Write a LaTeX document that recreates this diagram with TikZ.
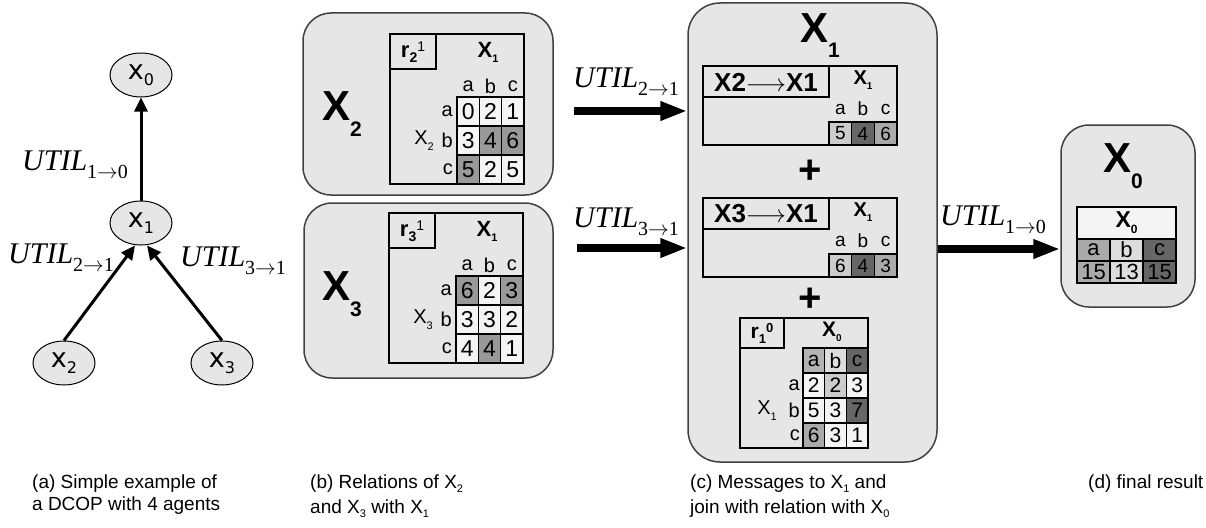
\documentclass[tikz,border=0pt]{standalone}
\usepackage{fontspec}
\setmainfont{Liberation Sans}
\newfontfamily\utilfont{Liberation Serif}
\newfontfamily\dvfont{DejaVu Sans}
\usetikzlibrary{arrows.meta,shapes.geometric}
\definecolor{boxgray}{HTML}{E6E6E6}
\definecolor{boxline}{HTML}{404040}
\definecolor{cellw}{HTML}{F4F4F4}
\definecolor{g99}{HTML}{999999}
\definecolor{g66}{HTML}{666666}
\definecolor{gaa}{HTML}{AAAAAA}
\definecolor{gcc}{HTML}{CCCCCC}
\definecolor{gdd}{HTML}{DDDDDD}
\definecolor{gbb}{HTML}{B3B3B3}
\newcommand{\fsz}[1]{\fontsize{#1}{#1}\selectfont}
\newcommand{\dn}[3]{\raisebox{-#1pt}{\fsz{#2}#3}}
\newcommand{\up}[3]{\raisebox{#1pt}{\fsz{#2}#3}}
\newcommand{\util}[2]{{\fsz{30}\utilfont\itshape UTIL}\dn{8}{20}{\utilfont #1\(\rightarrow\)#2}}
\begin{document}
\begin{tikzpicture}[x=1pt,y=-1pt,
  agent/.style={ellipse, draw=black, line width=1pt, fill=boxgray, minimum width=62pt, minimum height=44pt, inner sep=0pt, font=\dvfont\fsz{27}},
  thinarr/.style={line width=3pt, -{Triangle[length=14pt,width=13pt]}},
  bigarr/.style={line width=8pt, -{Triangle[length=27pt,width=18pt]}},
  utl/.style={inner sep=0pt},
  vbox/.style={draw=boxline, line width=1.5pt, fill=boxgray, rounded corners=28pt, inner sep=0pt},
  tframe/.style={draw=black, line width=2pt},
  bigx/.style={inner sep=0pt, font=\fsz{42}\bfseries},
  lbl/.style={inner sep=0pt},
  cellb/.style={draw=black, line width=1.6pt, minimum width=22.33pt, minimum height=29pt, inner sep=0pt, font=\fsz{23}},
  cellm/.style={draw=black, line width=1.6pt, minimum width=22.67pt, minimum height=23pt, inner sep=0pt, font=\fsz{19}},
  cellr/.style={draw=black, line width=1.6pt, minimum width=21.67pt, minimum height=25pt, inner sep=0pt, font=\fsz{21}},
  cellx/.style={draw=black, line width=1.6pt, minimum width=33pt, minimum height=22pt, inner sep=0pt, font=\fsz{22}},
  plussign/.style={inner sep=0pt, font=\fsz{40}\bfseries},
  captxt/.style={inner sep=0pt, align=left, anchor=north west}
]
\useasboundingbox (0,0) rectangle (1206,527);

% ---------- (a) ----------
\node[agent] (x0) at (141,75) {x\dn{6}{16}{0}};
\node[agent] (x1) at (141,223) {x\dn{6}{16}{1}};
\node[agent] (x2) at (64,363) {x\dn{6}{16}{2}};
\node[agent] (x3) at (222,363) {x\dn{6}{16}{3}};
\draw[thinarr] (x1) -- (x0);
\draw[thinarr] (x2.north) -- ([xshift=-6pt]x1.south);
\draw[thinarr] (x3.north) -- ([xshift=6pt]x1.south);
\node[utl, anchor=base west] (l10a) at (22,170) {\util{1}{0}};
\node[utl, anchor=base west] (l21a) at (8,263) {\util{2}{1}};
\node[utl, anchor=base west] (l31a) at (180,266) {\util{3}{1}};

% ---------- boxes ----------
\node[vbox, minimum width=250pt, minimum height=182pt] (boxX2) at (428,104) {};
\node[vbox, minimum width=249pt, minimum height=175pt] (boxX3) at (428.5,290.5) {};
\node[vbox, minimum width=249pt, minimum height=459pt, rounded corners=32pt] (mid) at (812.5,232.5) {};
\node[vbox, minimum width=134pt, minimum height=182pt] (boxX0) at (1128,216) {};

\node[bigx, anchor=base west] (bx2) at (322,120) {X\dn{16}{21}{2}};
\node[bigx, anchor=base west] (bx3) at (322,300) {X\dn{16}{21}{3}};
\node[bigx, anchor=base west] (bx1) at (800,42) {X\dn{16}{21}{1}};
\node[bigx, anchor=base west] (bx0) at (1103,172) {X\dn{16}{21}{0}};

% ---------- X2 table ----------
\begin{scope}[shift={(390,34)}]
\draw[tframe] (0,0) rectangle (134,150);
\draw[tframe] (0,0) rectangle (46,35);
\node[lbl, font=\fsz{22}] (t2r) at (23,18) {\textbf{r}\dn{5}{14}{\bfseries 2}\up{6}{14}{1}};
\node[lbl, font=\fsz{22}\bfseries] (t2h) at (98,18) {X\dn{5}{11}{1}};
\node[lbl, font=\fsz{20}] (t2ca) at (78.2,52) {a};
\node[lbl, font=\fsz{20}] (t2cb) at (100.5,52) {b};
\node[lbl, font=\fsz{20}] (t2cc) at (122.8,52) {c};
\node[lbl, font=\fsz{20}, anchor=east] (t2ra) at (63,77.5) {a};
\node[lbl, font=\fsz{20}, anchor=east] (t2rb) at (63,106.5) {b};
\node[lbl, font=\fsz{20}, anchor=east] (t2rc) at (63,135.5) {c};
\node[lbl, font=\fsz{20}, anchor=east] (t2x) at (44,107) {X\dn{6}{11}{2}};
\node[cellb, fill=cellw] (t2aa) at (78.2,77.5) {0};
\node[cellb, fill=cellw] (t2ab) at (100.5,77.5) {2};
\node[cellb, fill=cellw] (t2ac) at (122.8,77.5) {1};
\node[cellb, fill=cellw] (t2ba) at (78.2,106.5) {3};
\node[cellb, fill=g99] (t2bb) at (100.5,106.5) {4};
\node[cellb, fill=g99] (t2bc) at (122.8,106.5) {6};
\node[cellb, fill=g99] (t2ca2) at (78.2,135.5) {5};
\node[cellb, fill=cellw] (t2cb2) at (100.5,135.5) {2};
\node[cellb, fill=cellw] (t2cc2) at (122.8,135.5) {5};
\end{scope}

% ---------- X3 table ----------
\begin{scope}[shift={(389,213)}]
\draw[tframe] (0,0) rectangle (134,150);
\draw[tframe] (0,0) rectangle (46,35);
\node[lbl, font=\fsz{22}] (t3r) at (23,18) {\textbf{r}\dn{5}{14}{\bfseries 3}\up{6}{14}{1}};
\node[lbl, font=\fsz{22}\bfseries] (t3h) at (98,18) {X\dn{5}{11}{1}};
\node[lbl, font=\fsz{20}] (t3ca) at (78.2,52) {a};
\node[lbl, font=\fsz{20}] (t3cb) at (100.5,52) {b};
\node[lbl, font=\fsz{20}] (t3cc) at (122.8,52) {c};
\node[lbl, font=\fsz{20}, anchor=east] (t3ra) at (63,77.5) {a};
\node[lbl, font=\fsz{20}, anchor=east] (t3rb) at (63,106.5) {b};
\node[lbl, font=\fsz{20}, anchor=east] (t3rc) at (63,135.5) {c};
\node[lbl, font=\fsz{20}, anchor=east] (t3x) at (44,107) {X\dn{6}{11}{3}};
\node[cellb, fill=g99] (t3aa) at (78.2,77.5) {6};
\node[cellb, fill=cellw] (t3ab) at (100.5,77.5) {2};
\node[cellb, fill=g99] (t3ac) at (122.8,77.5) {3};
\node[cellb, fill=cellw] (t3ba) at (78.2,106.5) {3};
\node[cellb, fill=cellw] (t3bb) at (100.5,106.5) {3};
\node[cellb, fill=cellw] (t3bc) at (122.8,106.5) {2};
\node[cellb, fill=cellw] (t3ca2) at (78.2,135.5) {4};
\node[cellb, fill=g99] (t3cb2) at (100.5,135.5) {4};
\node[cellb, fill=cellw] (t3cc2) at (122.8,135.5) {1};
\end{scope}

% ---------- X2->X1 message ----------
\begin{scope}[shift={(703,66)}]
\draw[tframe] (0,0) rectangle (194,79);
\draw[tframe] (0,0) rectangle (126,31);
\node[lbl, font=\fsz{26}\bfseries] (m2h) at (63,16) {X2\(\longrightarrow\)X1};
\node[lbl, font=\fsz{20}\bfseries] (m2x) at (160,14) {X\dn{5}{10}{1}};
\node[lbl, font=\fsz{19}] (m2ca) at (137.3,43) {a};
\node[lbl, font=\fsz{19}] (m2cb) at (160,43) {b};
\node[lbl, font=\fsz{19}] (m2cc) at (182.7,43) {c};
\node[cellm, fill=gcc] (m2a) at (137.3,67.5) {5};
\node[cellm, fill=g66] (m2b) at (160,67.5) {4};
\node[cellm, fill=gaa] (m2c) at (182.7,67.5) {6};
\end{scope}
\node[plussign] (p1) at (810,172) {+};

% ---------- X3->X1 message ----------
\begin{scope}[shift={(703,198)}]
\draw[tframe] (0,0) rectangle (194,79);
\draw[tframe] (0,0) rectangle (126,31);
\node[lbl, font=\fsz{26}\bfseries] (m3h) at (63,16) {X3\(\longrightarrow\)X1};
\node[lbl, font=\fsz{20}\bfseries] (m3x) at (160,14) {X\dn{5}{10}{1}};
\node[lbl, font=\fsz{19}] (m3ca) at (137.3,43) {a};
\node[lbl, font=\fsz{19}] (m3cb) at (160,43) {b};
\node[lbl, font=\fsz{19}] (m3cc) at (182.7,43) {c};
\node[cellm, fill=gcc] (m3a) at (137.3,67.5) {6};
\node[cellm, fill=g66] (m3b) at (160,67.5) {4};
\node[cellm, fill=gaa] (m3c) at (182.7,67.5) {3};
\end{scope}
\node[plussign] (p2) at (810,300) {+};

% ---------- r1^0 ----------
\begin{scope}[shift={(740,318)}]
\draw[tframe] (0,0) rectangle (128,130);
\draw[tframe] (0,0) rectangle (44,30);
\node[lbl, font=\fsz{21}] (r1r) at (22,15) {\textbf{r}\dn{5}{13}{\bfseries 1}\up{6}{13}{\bfseries 0}};
\node[lbl, font=\fsz{21}\bfseries] (r1h) at (92,14) {X\dn{5}{10}{0}};
\node[cellr, fill=gbb] (r1ca) at (73.8,42.5) {a};
\node[cellr, fill=gdd] (r1cb) at (95.5,42.5) {b};
\node[cellr, fill=g66] (r1cc) at (117.2,42.5) {c};
\node[lbl, font=\fsz{20}, anchor=east] (r1ra) at (60,67.5) {a};
\node[lbl, font=\fsz{20}, anchor=east] (r1rb) at (60,92.5) {b};
\node[lbl, font=\fsz{20}, anchor=east] (r1rc) at (60,117.5) {c};
\node[lbl, font=\fsz{20}, anchor=east] (r1x) at (37,93) {X\dn{6}{11}{1}};
\node[cellr, fill=cellw] (r1aa) at (73.8,67.5) {2};
\node[cellr, fill=gcc] (r1ab) at (95.5,67.5) {2};
\node[cellr, fill=cellw] (r1ac) at (117.2,67.5) {3};
\node[cellr, fill=cellw] (r1ba) at (73.8,92.5) {5};
\node[cellr, fill=cellw] (r1bb) at (95.5,92.5) {3};
\node[cellr, fill=g66] (r1bc) at (117.2,92.5) {7};
\node[cellr, fill=gaa] (r1ca2) at (73.8,117.5) {6};
\node[cellr, fill=cellw] (r1cb2) at (95.5,117.5) {3};
\node[cellr, fill=cellw] (r1cc2) at (117.2,117.5) {1};
\end{scope}

% ---------- X0 result ----------
\begin{scope}[shift={(1077,207)}]
\node[draw=black, line width=1.6pt, fill=cellw, minimum width=99pt, minimum height=32pt, inner sep=0pt, font=\fsz{23}\bfseries] (x0h) at (49.5,16) {X\dn{6}{12}{0}};
\node[cellx, fill=gaa] (x0a) at (16.5,43) {a};
\node[cellx, fill=gdd] (x0b) at (49.5,43) {b};
\node[cellx, fill=g66] (x0c) at (82.5,43) {c};
\node[cellx, fill=gaa] (x0va) at (16.5,65) {15};
\node[cellx, fill=gdd] (x0vb) at (49.5,65) {13};
\node[cellx, fill=g66] (x0vc) at (82.5,65) {15};
\end{scope}

% ---------- big arrows ----------
\coordinate (s21) at (574,111);
\coordinate (s31) at (577,248);
\coordinate (y10) at (0,249);
\draw[bigarr] (s21) -- (s21 -| mid.west);
\draw[bigarr] (s31) -- (s31 -| mid.west);
\draw[bigarr] (mid.east |- y10) -- (boxX0.west |- y10);
\node[utl, anchor=base west] (l21) at (573,87) {\util{2}{1}};
\node[utl, anchor=base west] (l31) at (573,227) {\util{3}{1}};
\node[utl, anchor=base west] (l10) at (940,225) {\util{1}{0}};

% ---------- captions ----------
\node[captxt, font=\fontsize{19}{22}\selectfont] (capa) at (32,475) {(a) Simple example of\\a DCOP with 4 agents};
\node[captxt, font=\fontsize{19}{25}\selectfont] (capb) at (310,475) {(b) Relations of X\dn{4}{11}{2}\\and X\dn{4}{11}{3} with X\dn{4}{11}{1}};
\node[captxt, font=\fontsize{19}{25}\selectfont] (capc) at (690,475) {(c) Messages to X\dn{4}{11}{1} and\\join with relation with X\dn{4}{11}{0}};
\node[captxt, font=\fontsize{19}{22}\selectfont] (capd) at (1088,475) {(d) final result};
\end{tikzpicture}
\end{document}
